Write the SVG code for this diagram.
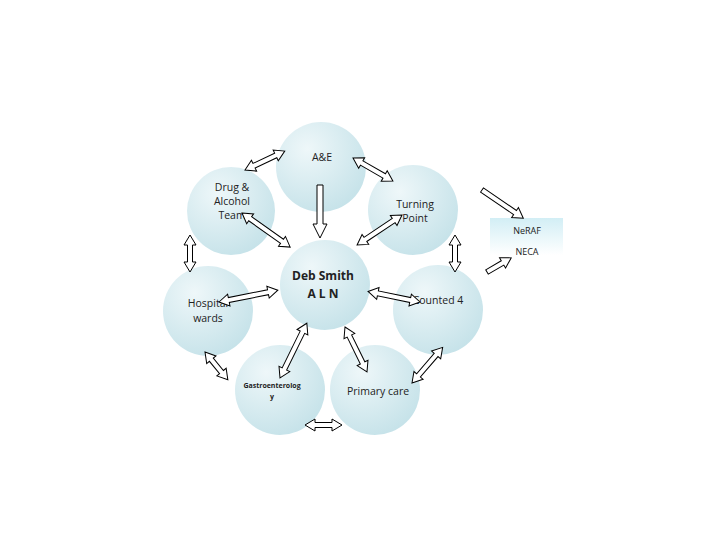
<svg xmlns="http://www.w3.org/2000/svg" width="720" height="540" viewBox="0 0 720 540">
<defs>
<radialGradient id="cg" cx="0.35" cy="0.3" r="0.8">
<stop offset="0" stop-color="#eef7f9"/>
<stop offset="1" stop-color="#c3e1e8"/>
</radialGradient>
<linearGradient id="bg" x1="0" y1="0" x2="0" y2="1">
<stop offset="0" stop-color="#d2eef5"/>
<stop offset="1" stop-color="#ffffff"/>
</linearGradient>
<style>
.n{fill:url(#cg);stroke:none}
.t{font-family:"Open Sans","Liberation Sans",sans-serif;font-size:10.5px;fill:#222;text-anchor:middle}
.b{font-weight:bold;font-size:12px}
.a{fill:#fff;stroke:#000;stroke-width:1}
</style>
</defs>
<rect width="720" height="540" fill="#fff"/>
<g id="ae"><circle class="n" cx="321" cy="167" r="45"/><text class="t" x="322" y="161">A&amp;E</text></g>
<g id="drug"><circle class="n" cx="231" cy="211" r="44"/><text class="t" x="232" y="191">Drug &amp;</text><text class="t" x="232" y="205">Alcohol</text><text class="t" x="232" y="219">Team</text></g>
<g id="turning"><circle class="n" cx="413" cy="210" r="45"/><text class="t" x="415" y="208">Turning</text><text class="t" x="415" y="222">Point</text></g>
<g id="deb"><circle class="n" cx="325" cy="285" r="45"/><text class="t b" x="323" y="280">Deb Smith</text><text class="t b" x="323" y="298">A L N</text></g>
<g id="hospital"><circle class="n" cx="208" cy="311" r="45"/><text class="t" x="208" y="307">Hospital</text><text class="t" x="208" y="322">wards</text></g>
<g id="counted"><circle class="n" cx="438" cy="310" r="45"/><text class="t" x="438" y="304">Counted 4</text></g>
<g id="gastro"><circle class="n" cx="280" cy="390" r="45"/><text class="t" x="272" y="388" style="font-size:7px;font-weight:bold">Gastroenterolog</text><text class="t" x="272" y="399" style="font-size:7px;font-weight:bold">y</text></g>
<g id="primary"><circle class="n" cx="375" cy="390" r="45"/><text class="t" x="378" y="395">Primary care</text></g>
<g id="neraf"><rect x="490" y="218" width="73" height="37" fill="url(#bg)"/><text class="t" x="527" y="234" style="font-size:9px">NeRAF</text><text class="t" x="527" y="255" style="font-size:9px">NECA</text></g>
<g id="connectors">
<polygon class="a" transform="translate(245,170) rotate(-25.4)" points="0,0 10,-6 10,-2.5 34,-2.5 34,-6 44,0 34,6 34,2.5 10,2.5 10,6"/>
<polygon class="a" transform="translate(353,158) rotate(29.9)" points="0,0 10,-6 10,-2.5 36,-2.5 36,-6 46,0 36,6 36,2.5 10,2.5 10,6"/>
<polygon class="a" transform="translate(320,185) rotate(90)" points="0,-3 39,-3 39,-7 53,0 39,7 39,3 0,3"/>
<polygon class="a" transform="translate(242,213) rotate(35.3)" points="0,0 10,-6 10,-2.5 49,-2.5 49,-6 59,0 49,6 49,2.5 10,2.5 10,6"/>
<polygon class="a" transform="translate(402,215) rotate(146.3)" points="0,0 10,-6 10,-2.5 44,-2.5 44,-6 54,0 44,6 44,2.5 10,2.5 10,6"/>
<polygon class="a" transform="translate(190,235) rotate(90)" points="0,0 10,-6 10,-2.5 27,-2.5 27,-6 37,0 27,6 27,2.5 10,2.5 10,6"/>
<polygon class="a" transform="translate(455,235) rotate(90)" points="0,0 10,-6 10,-2.5 27,-2.5 27,-6 37,0 27,6 27,2.5 10,2.5 10,6"/>
<polygon class="a" transform="translate(219,302) rotate(-11.3)" points="0,0 10,-6 10,-2.5 50,-2.5 50,-6 60,0 50,6 50,2.5 10,2.5 10,6"/>
<polygon class="a" transform="translate(420,302) rotate(191.5)" points="0,0 10,-6 10,-2.5 43,-2.5 43,-6 53,0 43,6 43,2.5 10,2.5 10,6"/>
<polygon class="a" transform="translate(205,352) rotate(50.6)" points="0,0 10,-6 10,-2.5 26,-2.5 26,-6 36,0 26,6 26,2.5 10,2.5 10,6"/>
<polygon class="a" transform="translate(280,378) rotate(-63.9)" points="0,0 10,-6 10,-2.5 51,-2.5 51,-6 61,0 51,6 51,2.5 10,2.5 10,6"/>
<polygon class="a" transform="translate(345,327) rotate(63.9)" points="0,0 10,-6 10,-2.5 40,-2.5 40,-6 50,0 40,6 40,2.5 10,2.5 10,6"/>
<polygon class="a" transform="translate(412,383) rotate(-49.3)" points="0,0 10,-6 10,-2.5 37,-2.5 37,-6 47,0 37,6 37,2.5 10,2.5 10,6"/>
<polygon class="a" transform="translate(305,425) rotate(0)" points="0,0 10,-6 10,-2.5 27,-2.5 27,-6 37,0 27,6 27,2.5 10,2.5 10,6"/>
<polygon class="a" transform="translate(482,190) rotate(34.3)" points="0,-2.5 40,-2.5 40,-6 50,0 40,6 40,2.5 0,2.5"/>
<polygon class="a" transform="translate(487,272) rotate(-30.3)" points="0,-2.5 18,-2.5 18,-6 28,0 18,6 18,2.5 0,2.5"/>
</g>
</svg>
